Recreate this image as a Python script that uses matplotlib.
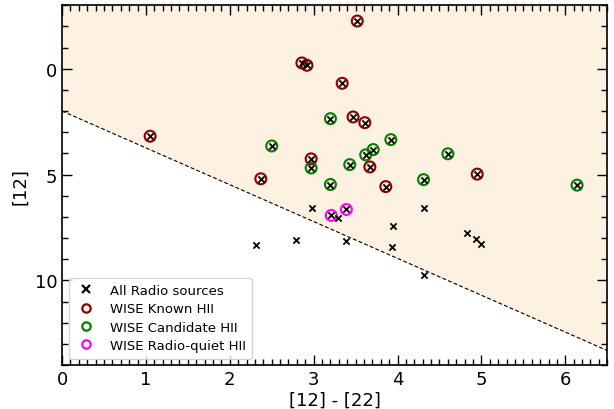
import matplotlib
matplotlib.use("Agg")
import matplotlib.pyplot as plt
import numpy as np
from matplotlib.ticker import MultipleLocator
from matplotlib.lines import Line2D

known_x = [2.86, 2.92, 1.05, 2.97, 2.37, 3.52, 3.34, 3.47, 3.61, 3.67, 4.95, 3.86]
known_y = [-0.27, -0.16, 3.19, 4.26, 5.20, -2.25, 0.69, 2.28, 2.55, 4.64, 4.98, 5.57]

cand_x = [2.50, 3.20, 2.97, 3.20, 3.92, 3.71, 3.62, 4.60, 3.43, 4.31, 6.14]
cand_y = [3.65, 2.36, 4.69, 5.47, 3.35, 3.82, 4.07, 4.02, 4.53, 5.24, 5.50]

quiet_x = [3.21, 3.39]
quiet_y = [6.93, 6.65]

other_x = [2.98, 2.31, 2.79, 3.29, 3.38, 4.32, 3.95, 3.93, 4.83, 4.93, 5.00, 4.31]
other_y = [6.57, 8.33, 8.11, 7.03, 8.16, 6.60, 7.42, 8.41, 7.77, 8.05, 8.30, 9.75]

line_intercept = 2.0
line_slope = 1.74

labels = ['All Radio sources', 'WISE Known HII', 'WISE Candidate HII', 'WISE Radio-quiet HII']

all_x = known_x + cand_x + quiet_x + other_x
all_y = known_y + cand_y + quiet_y + other_y

fig = plt.figure(figsize=(6.14, 4.10), dpi=100)
ax = fig.add_axes([0.101, 0.107, 0.888, 0.878])

xl = np.array([0, 6.5])
yl = line_intercept + line_slope * xl
ax.fill_between(xl, yl, -3, color='#FDF2E2', zorder=0, lw=0)
ax.plot(xl, yl, 'k--', lw=0.8, dashes=(3.5, 2), zorder=1)

ax.scatter(all_x, all_y, marker='x', c='black', s=20, lw=1.3, zorder=3)
ax.scatter(known_x, known_y, marker='o', facecolors='none', edgecolors='darkred', s=62, lw=1.5, zorder=2)
ax.scatter(cand_x, cand_y, marker='o', facecolors='none', edgecolors='green', s=62, lw=1.5, zorder=2)
ax.scatter(quiet_x, quiet_y, marker='o', facecolors='none', edgecolors='magenta', s=62, lw=1.5, zorder=2)

ax.set_xlim(0, 6.5)
ax.set_ylim(14, -3)
ax.xaxis.set_major_locator(MultipleLocator(1))
ax.xaxis.set_minor_locator(MultipleLocator(0.1))
ax.yaxis.set_major_locator(MultipleLocator(5))
ax.yaxis.set_minor_locator(MultipleLocator(1))
ax.tick_params(which='both', direction='in', top=True, right=True, labelsize=13)
ax.tick_params(which='major', length=7, width=1)
ax.tick_params(which='minor', length=4, width=1)
for s in ax.spines.values():
    s.set_linewidth(1.2)

ax.set_xlabel('[12] - [22]', fontsize=13, labelpad=2)
ax.set_ylabel('[12]', fontsize=13)

handles = [
    Line2D([], [], ls='none', marker='x', color='black', markersize=6, mew=1.6),
    Line2D([], [], ls='none', marker='o', mfc='none', mec='darkred', markersize=6, mew=1.6),
    Line2D([], [], ls='none', marker='o', mfc='none', mec='green', markersize=6, mew=1.6),
    Line2D([], [], ls='none', marker='o', mfc='none', mec='magenta', markersize=6, mew=1.6),
]
ax.legend(handles, labels, loc='lower left', fontsize=9.5, handlelength=1.6,
          handletextpad=1.0, borderpad=0.5, labelspacing=0.4)

fig.savefig('out.png', dpi=100)
